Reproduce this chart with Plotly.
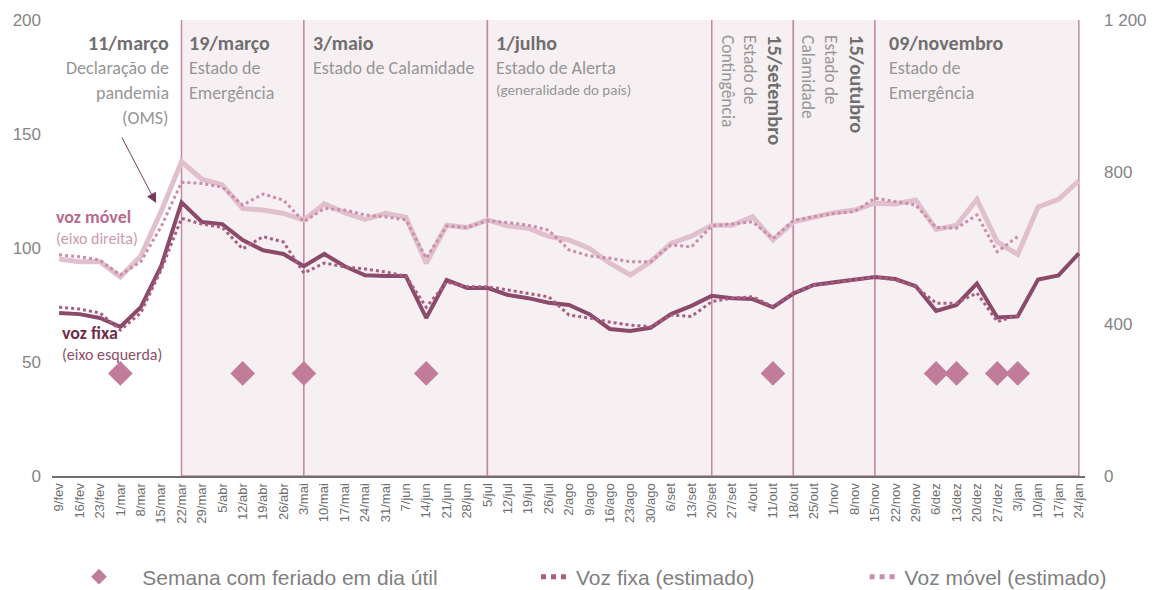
import plotly.graph_objects as go

weeks = ["9/fev","16/fev","23/fev","1/mar","8/mar","15/mar","22/mar","29/mar","5/abr","12/abr",
         "19/abr","26/abr","3/mai","10/mai","17/mai","24/mai","31/mai","7/jun","14/jun","21/jun",
         "28/jun","5/jul","12/jul","19/jul","26/jul","2/ago","9/ago","16/ago","23/ago","30/ago",
         "6/set","13/set","20/set","27/set","4/out","11/out","18/out","25/out","1/nov","8/nov",
         "15/nov","22/nov","29/nov","6/dez","13/dez","20/dez","27/dez","3/jan","10/jan","17/jan","24/jan"]

voz_fixa = [71.5,71,69.3,65.4,74,92,120,111.4,110.5,103.5,
            99,97.4,92,97.4,92,88,87.7,87.7,69.3,86,
            82.5,82.5,79.4,78,76,75,71,64.5,63.6,65,
            71,74.6,79,78,77.6,74,80,83.8,85,86,
            87.3,86.4,83.3,72.4,75,84.4,69.5,70,86.2,88,97.6]

voz_fixa_est = [74,73.2,71.5,64,71.5,90.4,113,110.5,109,99.6,
                105,102.6,89,93.4,91.7,90.8,89.5,87.7,74,85,
                83,83,81.6,80,78.6,70.6,69.3,67.5,66.2,65.5,
                70.6,70,76.5,78,78.6,74.3,80.3,83.8,84.6,86,
                87.4,86,83,75.8,75.8,80.3,67.7,70.4,None,None,None]

voz_movel = [571,564,564,524,579,696,827,781,766,704,
             700,691,674,716,693,675,691,681,560,660,
             654,674,658,652,631,621,599,560,529,564,
             612,631,660,660,682,621,669,682,693,700,
             718,716,726,649,660,728,616,583,708,728,777]

voz_movel_est = [582,577,568,529,564,656,773,770,760,713,
                 742,726,669,704,700,687,682,674,573,658,
                 654,672,667,660,647,595,579,573,564,564,
                 608,603,658,663,669,625,672,682,691,696,
                 731,722,713,654,652,687,590,630,None,None,None]

feriado_weeks = ["1/mar","12/abr","3/mai","14/jun","11/out","6/dez","13/dez","27/dez","3/jan"]
feriado_level = [45]*len(feriado_weeks)

periods = [("22/mar","3/mai"),("3/mai","5/jul"),("5/jul","20/set"),
           ("20/set","18/out"),("18/out","15/nov"),("15/nov","24/jan")]

left_ticks = [0,50,100,150,200]
right_ticks = [0,400,800,1200]
right_ticktext = ["0","400","800","1 200"]

TXT = "Carlito, Lato, Open Sans, sans-serif"
AX = "Liberation Sans, Arial, sans-serif"
HEAD = "#6f6f6f"
SUB = "#959595"
NB = "\u00a0"

fig = go.Figure()

fig.add_trace(go.Scatter(x=weeks, y=voz_movel, mode="lines", yaxis="y2",
                         line=dict(color="#e0c0cd", width=5), showlegend=False, hoverinfo="skip"))
fig.add_trace(go.Scatter(x=weeks, y=voz_movel_est, mode="lines", yaxis="y2",
                         name="Voz móvel (estimado)",
                         line=dict(color="#cc8dab", width=3, dash="dot"), showlegend=True))
fig.add_trace(go.Scatter(x=weeks, y=voz_fixa, mode="lines",
                         line=dict(color="#8c4a6a", width=4), showlegend=False))
fig.add_trace(go.Scatter(x=weeks, y=voz_fixa_est, mode="lines",
                         name="Voz fixa (estimado)" + NB * 18,
                         line=dict(color="#a95d81", width=3, dash="dot"), showlegend=True))
fig.add_trace(go.Scatter(x=feriado_weeks, y=feriado_level, mode="markers",
                         name=NB * 4 + "Semana com feriado em dia útil" + NB * 16,
                         marker=dict(symbol="diamond", size=19, color="#c07c99"), showlegend=True))

shapes = []
for a, b in periods:
    shapes.append(dict(type="rect", xref="x", yref="y", x0=weeks.index(a), x1=weeks.index(b),
                       y0=0, y1=201, layer="below",
                       fillcolor="#f7f0f3", line=dict(color="#c48aa4", width=1.5)))

def px2x(px):
    return (px - 59) / 20.4

def py2y(py):
    return (476 - py) / 2.28

ann = []
def txt(text, px, py, size, color, xanchor="left", weight="normal", angle=0, yanchor="middle"):
    ann.append(dict(text=text, x=px2x(px), y=py2y(py), xref="x", yref="y", showarrow=False,
                    xanchor=xanchor, yanchor=yanchor, textangle=angle,
                    font=dict(family=TXT, size=size, color=color, weight=weight)))

H, S = 20, 18
txt("11/março", 171, 43, H, HEAD, "right", "bold")
txt("Declaração de", 171, 68, S, SUB, "right")
txt("pandemia", 171, 93, S, SUB, "right")
txt("(OMS)", 171, 118, S, SUB, "right")

txt("19/março", 187, 43, H, HEAD, "left", "bold")
txt("Estado de", 187, 68, S, SUB)
txt("Emergência", 187, 93, S, SUB)

txt("3/maio", 311, 43, H, HEAD, "left", "bold")
txt("Estado de Calamidade", 311, 68, S, SUB)

txt("1/julho", 494, 43, H, HEAD, "left", "bold")
txt("Estado de Alerta", 494, 68, S, SUB)
txt("(generalidade do país)", 494, 90, 15, SUB)

txt("Contingência", 728, 33, 17.5, SUB, "center", angle=90, yanchor="top")
txt("Estado de", 750, 33, 17.5, SUB, "center", angle=90, yanchor="top")
txt("15/setembro", 775, 33, 20.5, HEAD, "center", "bold", angle=90, yanchor="top")

txt("Calamidade", 808, 33, 17.5, SUB, "center", angle=90, yanchor="top")
txt("Estado de", 831, 33, 17.5, SUB, "center", angle=90, yanchor="top")
txt("15/outubro", 857, 33, 20.5, HEAD, "center", "bold", angle=90, yanchor="top")

txt("09/novembro", 887, 43, H, HEAD, "left", "bold")
txt("Estado de", 887, 68, S, SUB)
txt("Emergência", 887, 93, S, SUB)

txt("voz móvel", 54, 217, 18, "#b86a8e", "left", "bold")
txt("(eixo direita)", 54, 238, 16, "#c99bb0")
txt("voz fixa", 60, 333, 18, "#6f2d4b", "left", "bold")
txt("(eixo esquerda)", 60, 354, 16, "#8c4f6b")

# arrow pointing at the 11/março onset
ann.append(dict(x=px2x(156), y=py2y(203), xref="x", yref="y", ax=-35, ay=-67,
                showarrow=True, arrowhead=2, arrowsize=2, arrowwidth=1,
                arrowcolor="#7d3a58", text=""))

fig.update_layout(
    width=1153, height=582,
    margin=dict(l=44, r=76, t=12, b=114, autoexpand=False),
    paper_bgcolor="white", plot_bgcolor="white",
    shapes=shapes, annotations=ann,
    xaxis=dict(type="category", range=[-0.35, 50.3], showgrid=False, zeroline=False,
               showline=True, linecolor="#6e6e6e", linewidth=2, automargin=False,
               tickangle=-90, ticks="", tickfont=dict(family=AX, size=13, color="#6e6e6e")),
    yaxis=dict(range=[0, 200], tickvals=left_ticks, showgrid=False, zeroline=False,
               ticks="", ticklabelstandoff=10, automargin=False,
               tickfont=dict(family=AX, size=17, color="#858585")),
    yaxis2=dict(range=[0, 1200], overlaying="y", side="right", tickvals=right_ticks,
                ticktext=right_ticktext, showgrid=False, zeroline=False, ticks="",
                ticklabelstandoff=18, automargin=False,
                tickfont=dict(family=AX, size=17, color="#858585")),
    legend=dict(orientation="h", x=(1112 - 52) / 1033, xanchor="right", y=-0.2215, yanchor="middle",
                traceorder="reversed", itemsizing="constant",
                font=dict(family=AX, size=21, color="#7f7f7f"), bgcolor="rgba(0,0,0,0)"),
    showlegend=True,
)

fig.write_html("out.html")
